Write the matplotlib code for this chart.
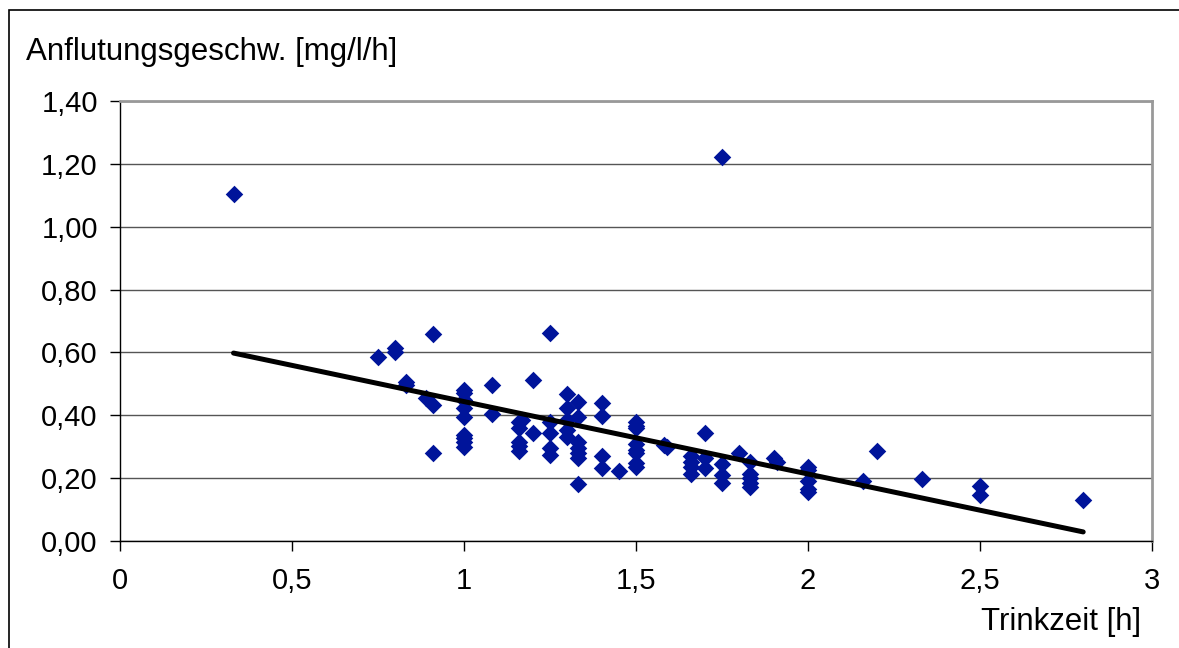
import matplotlib
matplotlib.use("Agg")
import matplotlib.pyplot as plt
import numpy as np
from matplotlib.patches import Rectangle
from matplotlib.ticker import FuncFormatter

plt.rcParams['font.family'] = ['Liberation Sans', 'DejaVu Sans']

# Trinkzeit [h] and Anflutungsgeschwindigkeit [mg/l/h]
trinkzeit = [
    0.33, 0.75, 0.80, 0.80, 0.83, 0.83, 0.89, 0.91, 0.91, 0.91,
    1.00, 1.00, 1.00, 1.00, 1.00, 1.00, 1.00, 1.00, 1.00,
    1.08, 1.08, 1.16, 1.17, 1.16, 1.16, 1.16, 1.16,
    1.20, 1.20, 1.25, 1.25, 1.25, 1.25, 1.25,
    1.30, 1.30, 1.30, 1.30, 1.30,
    1.33, 1.33, 1.33, 1.33, 1.33, 1.33, 1.33,
    1.40, 1.40, 1.40, 1.40, 1.45,
    1.50, 1.50, 1.50, 1.50, 1.50, 1.50, 1.50, 1.50,
    1.58, 1.59, 1.66, 1.66, 1.66, 1.66,
    1.70, 1.70, 1.70, 1.75, 1.75, 1.75, 1.75, 1.80,
    1.83, 1.83, 1.83, 1.83, 1.83, 1.90, 1.91,
    2.00, 2.00, 2.00, 2.00, 2.00,
    2.16, 2.20, 2.33, 2.50, 2.50, 2.80,
]
anflutung = [
    1.104, 0.586, 0.613, 0.600, 0.507, 0.497, 0.456, 0.433, 0.659, 0.281,
    0.480, 0.470, 0.449, 0.422, 0.396, 0.337, 0.327, 0.316, 0.300,
    0.496, 0.404, 0.380, 0.385, 0.358, 0.316, 0.302, 0.287,
    0.512, 0.343, 0.663, 0.380, 0.343, 0.295, 0.274,
    0.468, 0.422, 0.385, 0.353, 0.332,
    0.443, 0.394, 0.316, 0.295, 0.279, 0.263, 0.180,
    0.440, 0.399, 0.270, 0.231, 0.224,
    0.380, 0.366, 0.358, 0.309, 0.290, 0.279, 0.247, 0.236,
    0.305, 0.298, 0.270, 0.252, 0.236, 0.213,
    0.343, 0.263, 0.231, 1.222, 0.245, 0.210, 0.184, 0.279,
    0.252, 0.213, 0.199, 0.183, 0.173, 0.263, 0.252,
    0.235, 0.225, 0.190, 0.165, 0.155,
    0.192, 0.286, 0.197, 0.176, 0.146, 0.129,
]

# linear trend line
trend_slope = -0.2304
trend_intercept = 0.674

fig = plt.figure(figsize=(11.79, 6.48), dpi=100)
ax = fig.add_axes([120 / 1179, 107 / 648, 1032 / 1179, 440 / 648])

# outer frame of the chart (right and bottom edges fall outside the image)
fig.patches.append(Rectangle((9 / 1179, -0.1), 1.2, 1.1 - 10 / 648,
                             transform=fig.transFigure, fill=False,
                             edgecolor='black', linewidth=1.2))

ax.scatter(trinkzeit, anflutung, marker='D', s=80, color='#00149A',
           linewidths=0, zorder=3)

tx = np.array([min(trinkzeit), max(trinkzeit)])
ax.plot(tx, trend_slope * tx + trend_intercept, color='black', linewidth=3.6,
        solid_capstyle='round', zorder=4)

ax.set_xlim(0, 3)
ax.set_ylim(0, 1.4)
ax.set_xticks(np.arange(0, 3.01, 0.5))
ax.set_yticks(np.arange(0, 1.41, 0.2))
ax.xaxis.set_major_formatter(FuncFormatter(lambda v, p: f"{v:g}".replace('.', ',')))
ax.yaxis.set_major_formatter(FuncFormatter(lambda v, p: f"{v:.2f}".replace('.', ',')))
ax.tick_params(axis='both', direction='out', length=7, width=1, labelsize=21,
               colors='black')
ax.tick_params(axis='y', pad=9)
ax.tick_params(axis='x', pad=12)
ax.grid(axis='y', color='#555555', linewidth=1)
ax.set_axisbelow(True)

for side in ['left', 'bottom']:
    ax.spines[side].set_color('black')
    ax.spines[side].set_linewidth(1)
for side in ['top', 'right']:
    ax.spines[side].set_color('#999999')
    ax.spines[side].set_linewidth(2)

fig.text(26 / 1179, 1 - 52 / 648, 'Anflutungsgeschw. [mg/l/h]', fontsize=22.5,
         ha='left', va='center')
fig.text(1141 / 1179, 1 - 622 / 648, 'Trinkzeit [h]', fontsize=22.5,
         ha='right', va='center')

fig.savefig("out.png", dpi=100)
